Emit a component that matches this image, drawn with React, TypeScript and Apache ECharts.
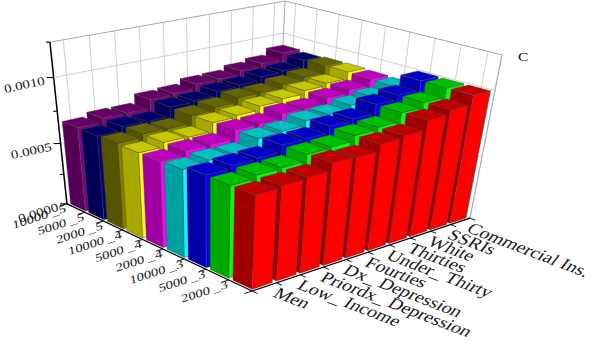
import React, { useEffect, useRef } from "react";
import * as echarts from "echarts";

const columns = ["Men", "Low_ Income", "Priordx_ Depression", "Dx_ Depression", "Fourties", "Under_ Thirty", "Thirties", "White", "SSRIs", "Commercial Ins."];
const rows = ["2000 _3", "5000 _3", "10000 _3", "2000 _4", "5000 _4", "10000 _4", "2000 _5", "5000 _5", "10000 _5"];
const zTicks = ["0.0000", "0.0005", "0.0010"];
const zMax = 0.00125;

const row0 = [0.0007, 0.000715, 0.000724, 0.000777, 0.000768, 0.000817, 0.000833, 0.0009, 0.000933, 0.000996];
const row1 = [0.000697, 0.00072, 0.000724, 0.000772, 0.000779, 0.000817, 0.000833, 0.000896, 0.00093, 0.000996];
const row2 = [0.000703, 0.000721, 0.000727, 0.000777, 0.000778, 0.000825, 0.000836, 0.000901, 0.00093, 0.000997];
const row3 = [0.000675, 0.000695, 0.000694, 0.000762, 0.000772, 0.000806, 0.000811, 0.00084, 0.000863, 0.000902];
const row4 = [0.00067, 0.0007, 0.000701, 0.000764, 0.000768, 0.000803, 0.000802, 0.00084, 0.000865, 0.000905];
const row5 = [0.000668, 0.0007, 0.000695, 0.00076, 0.000773, 0.000802, 0.000818, 0.000842, 0.00086, 0.000911];
const row6 = [0.000676, 0.000702, 0.000698, 0.000757, 0.000779, 0.000811, 0.000812, 0.000838, 0.000858, 0.00091];
const row7 = [0.00067, 0.000698, 0.000695, 0.000764, 0.000773, 0.000806, 0.000816, 0.000844, 0.000856, 0.000902];
const row8 = [0.000674, 0.000703, 0.000702, 0.000766, 0.000775, 0.00081, 0.000814, 0.000843, 0.000865, 0.000912];
const values = [row0, row1, row2, row3, row4, row5, row6, row7, row8];

// bright face, dark face, top face per row
const bright = ["#ff0000", "#00ff00", "#0000ff", "#00ffff", "#ff00ff", "#ffff00", "#808000", "#000080", "#800080"];
const dark = ["#a00000", "#00a800", "#0000a8", "#00a0a0", "#a000a0", "#a8a800", "#555500", "#000055", "#550055"];
const topc = ["#c00000", "#00c000", "#0000c8", "#00c0c0", "#c000c0", "#c8c800", "#666600", "#000066", "#660066"];

// camera calibration: world corner -> picture
const calib: number[][] = [
  [0, 0, 0, 252, 291],
  [1, 0, 0, 470, 218],
  [0, 1, 0, 67, 204],
  [0, 1, 1, 50, 42],
  [1, 0, 1, 502, 55],
  [1, 1, 1, 285, 1],
];

function solveCamera(): number[] {
  const A: number[][] = [];
  const b: number[] = [];
  for (const [x, y, z, u, v] of calib) {
    A.push([x, y, z, 1, 0, 0, 0, 0, -u * x, -u * y, -u * z]);
    b.push(u);
    A.push([0, 0, 0, 0, x, y, z, 1, -v * x, -v * y, -v * z]);
    b.push(v);
  }
  const n = 11;
  const M: number[][] = [];
  for (let i = 0; i < n; i++) {
    const r: number[] = [];
    for (let j = 0; j < n; j++) {
      let s = 0;
      for (let k = 0; k < A.length; k++) s += A[k][i] * A[k][j];
      r.push(s);
    }
    let s = 0;
    for (let k = 0; k < A.length; k++) s += A[k][i] * b[k];
    r.push(s);
    M.push(r);
  }
  for (let i = 0; i < n; i++) {
    let p = i;
    for (let k = i + 1; k < n; k++) if (Math.abs(M[k][i]) > Math.abs(M[p][i])) p = k;
    [M[i], M[p]] = [M[p], M[i]];
    for (let k = 0; k < n; k++) {
      if (k === i) continue;
      const f = M[k][i] / M[i][i];
      for (let j = i; j <= n; j++) M[k][j] -= f * M[i][j];
    }
  }
  return M.map((r, i) => r[n] / r[i]);
}
const cam = solveCamera();
function project(x: number, y: number, z: number): number[] {
  const w = cam[8] * x + cam[9] * y + cam[10] * z + 1;
  return [(cam[0] * x + cam[1] * y + cam[2] * z + cam[3]) / w, (cam[4] * x + cam[5] * y + cam[6] * z + cam[7]) / w];
}

const NX = columns.length;
const NY = rows.length;
const halfX = 0.41 / NX;
const halfY = 0.41 / NY;

function affineText(text: string, at: number[], ux: number[], vy: number[], align: string, fontSize = 12): any {
  const [m00, m10] = ux;
  const [m01, m11] = vy;
  const E = (m00 + m11) / 2, F = (m00 - m11) / 2, G = (m10 + m01) / 2, H = (m10 - m01) / 2;
  const Q = Math.hypot(E, H), R = Math.hypot(F, G);
  const a1 = Math.atan2(G, F), a2 = Math.atan2(H, E);
  const theta = (a2 - a1) / 2, phi = (a2 + a1) / 2;
  return {
    type: "group",
    x: at[0],
    y: at[1],
    rotation: -phi,
    children: [
      {
        type: "group",
        scaleX: Q + R,
        scaleY: Q - R,
        children: [
          {
            type: "text",
            rotation: -theta,
            style: { text, fill: "#1a1a1a", font: `${fontSize}px "Liberation Serif"`, align, verticalAlign: "middle" },
          },
        ],
      },
    ],
  };
}
const dirv = (deg: number, s: number) => [Math.cos((deg * Math.PI) / 180) * s, Math.sin((deg * Math.PI) / 180) * s];

function seg(a: number[], b: number[], stroke: string, lineWidth: number): any {
  return { type: "line", shape: { x1: a[0], y1: a[1], x2: b[0], y2: b[1] }, style: { stroke, lineWidth }, silent: true };
}

function buildGraphics(): any[] {
  const out: any[] = [];
  const grid = "#cfcfcf";
  const frame = "#a8a8a8";
  for (let i = 0; i < NX; i++) {
    const x = (i + 0.5) / NX;
    out.push(seg(project(x, 1, 0), project(x, 1, 1), grid, 1));
  }
  for (let j = 0; j < NY; j++) {
    const y = (j + 0.5) / NY;
    out.push(seg(project(1, y, 0), project(1, y, 1), grid, 1));
  }
  zTicks.forEach((_, k) => {
    const z = (k * 0.0005) / zMax;
    out.push(seg(project(0, 1, z), project(1, 1, z), grid, 1));
    out.push(seg(project(1, 1, z), project(1, 0, z), grid, 1));
  });
  out.push(seg(project(0, 1, 1), project(1, 1, 1), frame, 1));
  out.push(seg(project(1, 1, 1), project(1, 0, 1), frame, 1));
  out.push(seg(project(1, 1, 0), project(1, 1, 1), frame, 1));
  out.push(seg(project(1, 0, 0), project(1, 0, 1), frame, 1.2));
  // axes
  out.push(seg(project(0, 1, 0), project(0, 1, 1), "#000", 1.5));
  out.push(seg(project(0, 0, 0), project(0, 1, 0), "#000", 1.2));
  out.push(seg(project(0, 0, 0), project(1, 0, 0), "#000", 1.2));
  for (let k = 0; k <= 5; k++) {
    const z = (k * 0.00025) / zMax;
    const p = project(0, 1, z);
    const len = k % 2 === 0 ? 7 : 4;
    out.push(seg(p, [p[0] - len, p[1]], "#000", 1.1));
  }
  for (let j = 0; j <= NY; j++) {
    const p = project(0, j / NY, 0);
    const q = project(-0.03, j / NY, 0);
    out.push(seg(p, q, "#000", 0.9));
  }
  for (let i = 0; i <= NX; i++) {
    const p = project(i / NX, 0, 0);
    const q = project(i / NX, -0.025, 0);
    out.push(seg(p, q, "#000", 0.9));
  }
  // tick labels
  zTicks.forEach((t, k) => {
    const z = (k * 0.0005) / zMax;
    const p = project(0, 1, z);
    const ang = k === 0 ? -17 : -12;
    out.push(affineText(t, [p[0] - 9, p[1] + 3], dirv(ang, 1.26), dirv(ang + 90, 1.0), "right"));
  });
  rows.forEach((t, j) => {
    const p = project(0, (j + 1) / NY, 0);
    out.push(affineText(t, [p[0] - 1, p[1] + 4], dirv(-18, 1.25), dirv(82, 0.95), "right"));
  });
  columns.forEach((t, i) => {
    const p = project((i + 1) / NX, 0, 0);
    out.push(affineText(t, [p[0] - 1, p[1] + 9], dirv(21, 1.6), dirv(128, 1.45), "left"));
  });
  out.push({
    type: "text",
    x: 518,
    y: 50,
    style: { text: "C", fill: "#111", font: '13px "Liberation Serif"', align: "left", verticalAlign: "top" },
    scaleX: 1.2,
    silent: true,
  });
  return out;
}

const barData: number[][] = [];
for (let j = NY - 1; j >= 0; j--) {
  for (let i = NX - 1; i >= 0; i--) {
    barData.push([i, j, values[j][i]]);
  }
}

function renderBar(params: any, api: any): any {
  const i = api.value(0);
  const j = api.value(1);
  const v = api.value(2);
  const cs = params.coordSys;
  const pt = api.coord([i, v]);
  const xc = (pt[0] - cs.x) / cs.width;
  const z = (cs.y + cs.height - pt[1]) / cs.height;
  const yc = (j + 0.5) / NY;
  const x0 = xc - halfX, x1 = xc + halfX, y0 = yc - halfY, y1 = yc + halfY;
  const edge = "rgba(70,70,70,0.7)";
  const poly = (pts: number[][], fill: string) => ({
    type: "polygon",
    shape: { points: pts },
    style: { fill, stroke: edge, lineWidth: 0.6 },
  });
  return {
    type: "group",
    children: [
      poly([project(x0, y0, 0), project(x0, y1, 0), project(x0, y1, z), project(x0, y0, z)], dark[j]),
      poly([project(x0, y0, 0), project(x1, y0, 0), project(x1, y0, z), project(x0, y0, z)], bright[j]),
      poly([project(x0, y0, z), project(x1, y0, z), project(x1, y1, z), project(x0, y1, z)], topc[j]),
    ],
  };
}

export default function App() {
  const ref = useRef<HTMLDivElement>(null);
  useEffect(() => {
    const chart = echarts.init(ref.current!, null, { renderer: "svg" });
    chart.setOption({
      animation: false,
      backgroundColor: "#ffffff",
      grid: { left: 0, right: 0, top: 0, bottom: 0 },
      xAxis: { type: "category", data: columns, show: false },
      yAxis: { type: "value", min: 0, max: zMax, show: false },
      graphic: { elements: buildGraphics() },
      series: [
        {
          type: "custom",
          coordinateSystem: "cartesian2d",
          renderItem: renderBar,
          data: barData,
          encode: { x: 0, y: 2 },
          clip: false,
          silent: true,
          z: 5,
        },
      ],
    });
    return () => chart.dispose();
  }, []);
  return <div ref={ref} style={{ position: "absolute", left: 0, top: 0, width: 598, height: 349 }} />;
}
